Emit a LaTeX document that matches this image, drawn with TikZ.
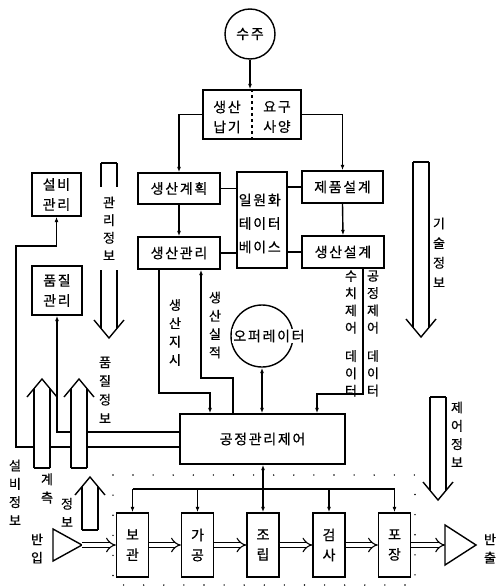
\documentclass[tikz,border=0pt]{standalone}
\usepackage{fontspec}
\setmainfont{Noto Sans CJK KR}[LetterSpace=12, FakeBold=0.6]
\usetikzlibrary{arrows.meta, math}

\tikzset{
  box/.style={draw, line width=1.4pt, inner sep=0pt, align=center},
  vtxt/.style={align=center, inner sep=0pt, font=\fontsize{13}{18.3}\selectfont},
  flow/.style={double, double distance=4pt, line width=1.1pt, -{Implies}},
  dotbox/.style={line width=1.6pt, line cap=round, dash pattern=on 0pt off 20.1pt},
}

\begin{document}
\begin{tikzpicture}[x=1pt, y=-1pt, line width=1.4pt, >={Latex[length=5.5pt,width=4pt]},
  font=\fontsize{14}{20}\selectfont]
\tikzmath{
\hw=8;
\wx=15;
\wy=18;
\wm=\hw*\wy/\wx;
}
\useasboundingbox (0,0) rectangle (497,586);

% order and requirements
\node[box, circle, minimum size=50pt] (order) at (250,34) {수주};
\node[box, minimum width=98pt, minimum height=49pt] (req) at (252,114.5) {};
\draw[dashed, line width=1.2pt] (req.north) -- (req.south);
\node[align=center] (reqL) at (227,117) {생산\\납기};
\node[align=center] (reqR) at (277,117) {요구\\사양};

% planning and design
\node[box, minimum width=82pt, minimum height=31pt] (plan) at (179,188.5) {생산계획};
\node[box, minimum width=82pt, minimum height=32pt] (ctrl) at (179,253) {생산관리};
\node[box, minimum width=50pt, minimum height=96pt] (db) at (262,220) {};
\node[align=left, anchor=west, inner sep=0pt, font=\fontsize{14}{23.5}\selectfont] (dbtxt) at (238,223.5) {일원화\\테이터\\베이스};
\node[box, minimum width=81pt, minimum height=32pt] (prod) at (342.5,187) {제품설계};
\node[box, minimum width=82pt, minimum height=32pt] (pdes) at (343,252) {생산설계};

\draw[->] (order.south) -- (order.south |- req.north);
\draw[->] (req.west) -| (plan.north);
\draw[->] (req.east) -| (prod.north);
\draw[->] (plan.south) -- (ctrl.north);
\draw[->] (prod.south) -- (pdes.north);
\draw (plan.east) -- (plan.east -| db.west);
\draw (ctrl.east) -- (ctrl.east -| db.west);
\draw (prod.west) -- (prod.west -| db.east);
\draw (pdes.west) -- (pdes.west -| db.east);

% facility and quality
\node[box, minimum width=49pt, minimum height=43pt] (fac) at (56.5,194.5) {설비\\관리};
\node[box, minimum width=50pt, minimum height=49pt] (qual) at (57,290.5) {품질\\관리};

% process control
\node[box, minimum width=165pt, minimum height=50pt] (pcc) at (262.5,439) {공정관리제어};
\node[box, circle, minimum size=62pt] (op) at (262,336) {};
\node[fill=white, inner sep=1pt] (optxt) at (269,336) {오퍼레이터};

\coordinate (cmd) at (210,393);
\coordinate (res1) at (233,378);
\coordinate (res2) at (201,378);
\coordinate (dat) at (317,394);
\draw[->] ([xshift=-20pt]ctrl.south) |- (cmd) -- (cmd |- pcc.north);
\draw[->] (res1 |- pcc.north) -- (res1) -- (res2) -- (res2 |- ctrl.south);
\draw[<->] (op.south) -- (op.south |- pcc.north);
\draw[->] ([xshift=20pt]pdes.south) |- (dat) -- (dat |- pcc.north);
\draw[->] ([yshift=-8pt]pcc.west) -| (16,246) -| (fac.south);
\draw[->] ([yshift=7pt]pcc.west) -| (qual.south);

\node[vtxt] (cmdtxt) at (175,332.5) {생\\산\\지\\시};
\node[vtxt] (restxt) at (215,325) {생\\산\\실\\적};
\node[vtxt, font=\fontsize{13}{17.3}\selectfont] (nctxt) at (351,333.5) {수\\치\\제\\어\\[11pt]데\\이\\터};
\node[vtxt, font=\fontsize{13}{17.3}\selectfont] (pctxt) at (373,333.5) {공\\정\\제\\어\\[11pt]데\\이\\터};

% shop floor
\draw[dotbox] (113,475) rectangle (415,585);
\foreach \n/\x/\ca/\cb in {p1/132.5/보/관, p2/197.5/가/공, p3/263/조/립, p4/329/검/사, p5/394.5/포/장}{
  \node[box, minimum width=32pt, minimum height=64pt] (\n) at (\x,545) {\ca\\\cb};
}
\coordinate (bus) at (0,489);
\draw (p1.north |- bus) -- (p5.north |- bus);
\foreach \n in {p1,p2,p4,p5}{
  \draw[->] (\n.north |- bus) -- (\n.north);
}
\draw[<->] (p3.north |- pcc.south) -- (p3.north);

\draw (53,529) -- (82,545) -- (53,561) -- cycle;
\coordinate (in) at (82,545);
\draw (445,525) -- (476,545) -- (445,565) -- cycle;
\coordinate (out) at (445,545);
\draw[flow] (in) -- (p1.west);
\draw[flow] (p1.east) -- (p2.west);
\draw[flow] (p2.east) -- (p3.west);
\draw[flow] (p3.east) -- (p4.west);
\draw[flow] (p4.east) -- (p5.west);
\draw[flow] (p5.east) -- (out);
\node[vtxt] (intxt) at (37,548.5) {반\\입};
\node[vtxt] (outtxt) at (490,548.5) {반\\출};

% information arrows
\foreach \cx/\ya/\yb in {109/163/338, 421/162/337, 438/397/500}{
  \draw ({\cx-\hw},\ya) -- ({\cx+\hw},\ya);
  \draw ({\cx-\hw},\ya) -- ({\cx-\hw},{\yb-\wm}) ({\cx+\hw},\ya) -- ({\cx+\hw},{\yb-\wm});
  \draw ({\cx-\wx},{\yb-\wy}) -- (\cx,\yb) -- ({\cx+\wx},{\yb-\wy});
}
\foreach \cx/\ya/\yb in {42/468/379, 79/468/379, 90/530/477}{
  \fill[white] ({\cx-\hw},\ya) rectangle ({\cx+\hw},{\yb+\wm});
  \draw ({\cx-\hw},\ya) -- ({\cx+\hw},\ya);
  \draw ({\cx-\hw},\ya) -- ({\cx-\hw},{\yb+\wm}) ({\cx+\hw},\ya) -- ({\cx+\hw},{\yb+\wm});
  \draw ({\cx-\wx},{\yb+\wy}) -- (\cx,\yb) -- ({\cx+\wx},{\yb+\wy});
}
\node[vtxt, fill=white, minimum width=20pt, minimum height=83pt, font=\fontsize{13}{17.7}\selectfont] (mgtxt) at (109,228.5) {관\\리\\정\\보};
\node[vtxt, font=\fontsize{13}{19.7}\selectfont] (techtxt) at (439,252.5) {기\\술\\정\\보};
\node[vtxt] (cinftxt) at (457,434.5) {제\\어\\정\\보};
\node[vtxt, font=\fontsize{13}{18.7}\selectfont] (qtxt) at (105,390) {품\\질\\정\\보};
\node[vtxt] (ftxt) at (15,492.5) {설\\비\\정\\보};
\node[vtxt] (meas1) at (47,488.5) {계\\측};
\node[vtxt] (meas2) at (67,512.5) {정\\보};
\end{tikzpicture}
\end{document}
